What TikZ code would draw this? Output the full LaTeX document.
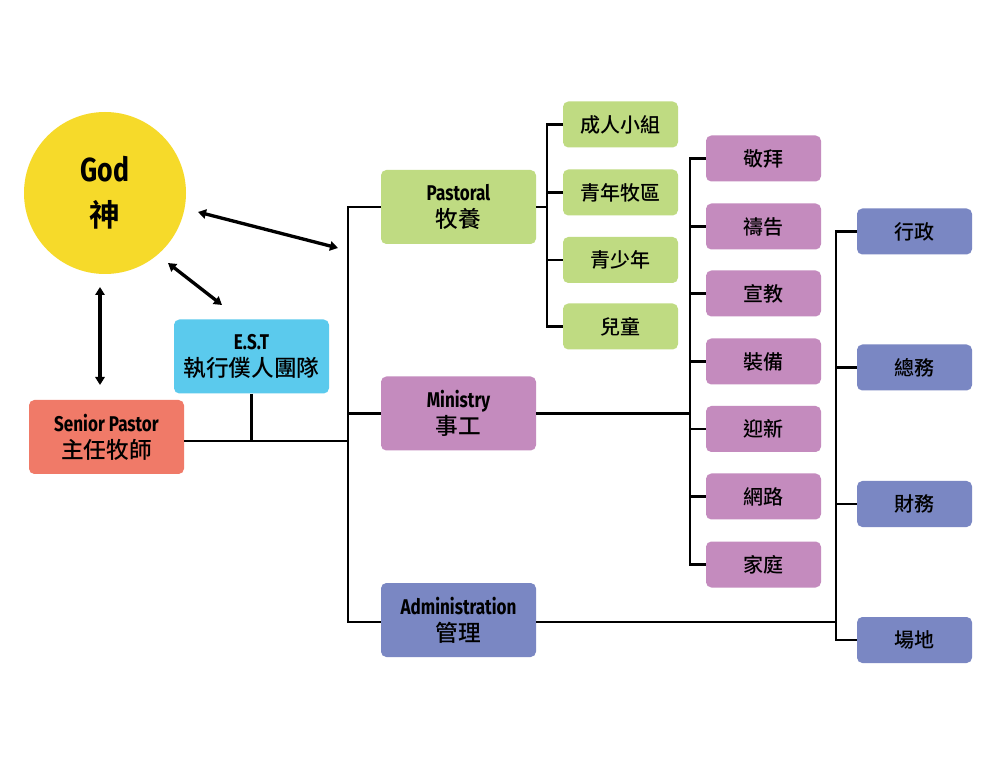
\documentclass[tikz,border=0pt]{standalone}
\usepackage{fontspec}
\usetikzlibrary{arrows.meta,calc}
\newfontfamily\en[FakeStretch=0.8]{Fira Sans}
\newfontfamily\cjk{Noto Sans CJK TC}[UprightFont={* Medium}]
\newfontfamily\cjkb{Noto Sans CJK TC}[UprightFont={* Bold}]
\definecolor{cgod}{HTML}{F6DA2A}
\definecolor{cgreen}{HTML}{BFDB82}
\definecolor{cpurple}{HTML}{C48BBE}
\definecolor{cblue}{HTML}{7A87C3}
\definecolor{cest}{HTML}{5BCAED}
\definecolor{csp}{HTML}{F07A68}
\newcommand\twol[2]{{\en\bfseries\fontsize{16}{16}\selectfont #1}\\{\cjk\fontsize{17}{17}\selectfont #2}}
\begin{document}
\begin{tikzpicture}[x=0.75pt,y=-0.75pt,
  box/.style={rounded corners=4pt,minimum width=116.25pt,minimum height=55.5pt,inner sep=0pt,align=center,text=black,font=\fontsize{16}{20.5pt}\selectfont},
  small/.style={rounded corners=4pt,minimum width=86.25pt,minimum height=34.5pt,inner sep=0pt,align=center,font=\cjk\fontsize{15}{16}\selectfont},
  conn/.style={line width=1.6pt,black},
  dbl/.style={line width=2.5pt,black,{Triangle[length=6pt,width=7pt]}-{Triangle[length=6pt,width=7pt]}}]
\useasboundingbox (0,0) rectangle (1000,773);
\fill[white] (0,0) rectangle (1000,773);
% God
\node[circle,fill=cgod,minimum size=121.5pt,inner sep=0pt,align=center,font=\fontsize{24}{34pt}\selectfont] (god) at (105,193)
  {{\en\bfseries\fontsize{25}{25}\selectfont God}\\{\cjkb\fontsize{23}{23}\selectfont 神}};
% main boxes
\node[box,fill=cest] (est) at (251.5,356.5) {\twol{E.S.T}{執行僕人團隊}};
\node[box,fill=csp] (sp) at (106.5,437) {\twol{Senior Pastor}{主任牧師}};
\node[box,fill=cgreen] (pastoral) at (458.5,207) {\twol{Pastoral}{牧養}};
\node[box,fill=cpurple] (ministry) at (458.5,413.5) {\twol{Ministry}{事工}};
\node[box,fill=cblue] (admin) at (458.5,620) {\twol{Administration}{管理}};
% green
\node[small,fill=cgreen] (g1) at (620.5,124.5) {成人小組};
\node[small,fill=cgreen] (g2) at (620.5,192.5) {青年牧區};
\node[small,fill=cgreen] (g3) at (620.5,260) {青少年};
\node[small,fill=cgreen] (g4) at (620.5,326.5) {兒童};
% purple
\node[small,fill=cpurple] (p1) at (763.5,158.5) {敬拜};
\node[small,fill=cpurple] (p2) at (763.5,226.5) {禱告};
\node[small,fill=cpurple] (p3) at (763.5,293.5) {宣教};
\node[small,fill=cpurple] (p4) at (763.5,361.5) {裝備};
\node[small,fill=cpurple] (p5) at (763.5,429) {迎新};
\node[small,fill=cpurple] (p6) at (763.5,496.5) {網路};
\node[small,fill=cpurple] (p7) at (763.5,564.5) {家庭};
% blue
\node[small,fill=cblue] (b1) at (914.5,231.5) {行政};
\node[small,fill=cblue] (b2) at (914.5,367.5) {總務};
\node[small,fill=cblue] (b3) at (914.5,504) {財務};
\node[small,fill=cblue] (b4) at (914.5,640) {場地};
% junction coordinates
\coordinate (trT) at (348,207);
\coordinate (trB) at (348,622);
\coordinate (spj) at (348,441);
\coordinate (gv) at (547,207);
\coordinate (pv) at (690,413.5);
\coordinate (bv) at (836,622);
% trunk
\draw[conn] (pastoral.west) -- (trT) -- (trB) -- (admin.west |- trB);
\draw[conn] (ministry.west) -- (ministry.west -| trT);
\draw[conn] (sp.east |- spj) -- (spj);
\draw[conn] (est.south) -- (est.south |- spj);
% pastoral branch
\draw[conn] (pastoral.east) -- (gv);
\draw[conn] (g1.west) -- (g1.west -| gv) -- (g4.west -| gv) -- (g4.west);
\draw[conn] (g2.west) -- (g2.west -| gv);
\draw[conn] (g3.west) -- (g3.west -| gv);
% ministry branch
\draw[conn] (ministry.east) -- (pv);
\draw[conn] (p1.west) -- (p1.west -| pv) -- (p7.west -| pv) -- (p7.west);
\foreach \n in {p2,p3,p4,p5,p6} \draw[conn] (\n.west) -- (\n.west -| pv);
% admin branch
\draw[conn] (admin.east |- bv) -- (bv);
\draw[conn] (b1.west) -- (b1.west -| bv) -- (b4.west -| bv) -- (b4.west);
\foreach \n in {b2,b3} \draw[conn] (\n.west) -- (\n.west -| bv);
% arrows
\coordinate (a1s) at (100,287); \coordinate (a1e) at (100,385);
\coordinate (a2s) at (168,263); \coordinate (a2e) at (222,305);
\coordinate (a3s) at (198,212); \coordinate (a3e) at (338,248);
\draw[dbl] (a1s) -- (a1e);
\draw[dbl] (a2s) -- (a2e);
\draw[dbl] (a3s) -- (a3e);
\end{tikzpicture}
\end{document}
